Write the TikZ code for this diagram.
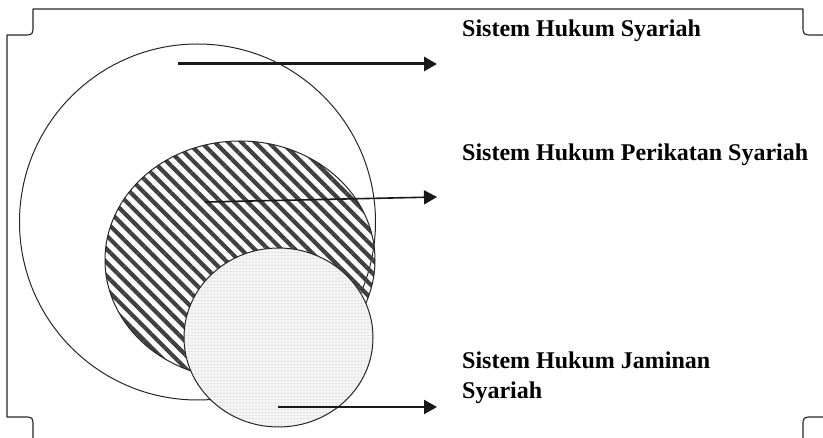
\documentclass[tikz,border=0pt]{standalone}
\usepackage{fontspec}
\setmainfont{Liberation Serif}
\usetikzlibrary{arrows.meta,patterns.meta}

\begin{document}
\begin{tikzpicture}[
  x=1pt,y=-1pt,
  frame/.style={draw=black!85, line width=1.2pt, line join=round},
  ring/.style={draw=black!85, line width=1pt},
  stripes/.style={ring, pattern={Lines[angle=-45,distance=9.5pt,line width=4.2pt]}, pattern color=black!75},
  stipple/.style={ring, preaction={fill=gray!8}, pattern={Dots[distance=3.2pt,radius=0.6pt]}, pattern color=gray!45},
  txt/.style={anchor=base west, inner sep=0pt, align=left, font=\fontsize{24}{30}\selectfont\bfseries},
  arr/.style={-{Triangle[length=13pt,width=14pt]}, draw=black!90}
]
\useasboundingbox (0,0) rectangle (823,438);

% frame with notched corners
\draw[frame] (7,35) -- (23,35) .. controls (33,35) .. (33,25) -- (33,9)
  -- (803,9) -- (803,25) .. controls (803,35) .. (813,35) -- (829,35)
  -- (829,417) -- (813,417) .. controls (803,417) .. (803,427) -- (803,444)
  -- (33,444) -- (33,427) .. controls (33,417) .. (23,417) -- (7,417) -- cycle;

% sets
\coordinate (hukum) at (197.5,222);
\coordinate (perikatan) at (240,260);
\coordinate (jaminan) at (278.5,337.5);
\draw[ring] (hukum) circle[radius=178pt];
\draw[stripes] (perikatan) ellipse[x radius=135pt, y radius=119pt];
\draw[stipple] (jaminan) ellipse[x radius=94.5pt, y radius=89.5pt];

% labels
\node[txt] (t-hukum) at (462,37) {Sistem Hukum Syariah};
\node[txt] (t-perikatan) at (462,161) {Sistem Hukum Perikatan Syariah};
\node[txt, anchor=north west] (t-jaminan) at (462,352) {Sistem Hukum Jaminan\\Syariah};

% pointers
\coordinate (s1) at (178,64);  \coordinate (e1) at (437,64);
\coordinate (s2) at (205,202); \coordinate (e2) at (437,197);
\coordinate (s3) at (278,407); \coordinate (e3) at (437,407);
\draw[arr, line width=3pt] (s1) -- (e1);
\draw[arr, line width=1.6pt] (s2) -- (e2);
\draw[arr, line width=2.4pt] (s3) -- (e3);
\end{tikzpicture}
\end{document}
